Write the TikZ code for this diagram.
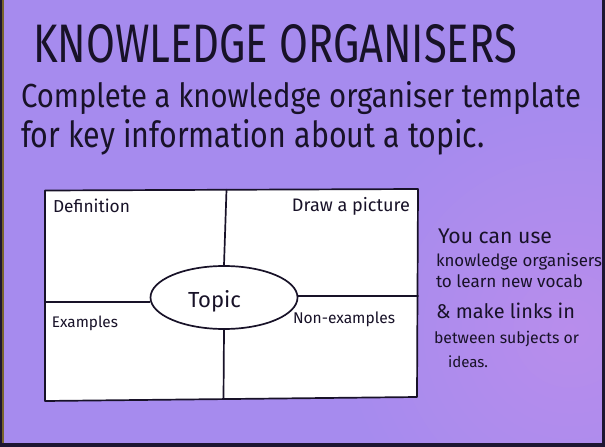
\documentclass[tikz,border=0pt]{standalone}
\usepackage{fontspec}
\setmainfont{Fira Sans}
\usetikzlibrary{shapes.geometric}
\definecolor{bgpurple}{RGB}{166,139,238}
\definecolor{bgpink}{RGB}{184,141,236}
\definecolor{ink}{RGB}{24,18,40}
\definecolor{frameedge}{RGB}{30,22,50}
\definecolor{oliveedge}{RGB}{120,100,45}
\newcommand\fitw[2]{\resizebox{#1pt}{!}{#2}}
\newcommand\fitwh[3]{\resizebox{#1pt}{#2pt}{#3}}
\begin{document}
\begin{tikzpicture}[x=1pt,y=-1pt,
  handtext/.style={anchor=base west, text=ink, inner sep=0pt, outer sep=0pt},
  handright/.style={anchor=base east, text=ink, inner sep=0pt, outer sep=0pt},
  gridline/.style={draw=ink, line width=1.7pt, line cap=round, line join=round},
  topicshape/.style={ellipse, draw=ink, fill=white, line width=1.7pt,
    minimum width=147pt, minimum height=63pt, inner sep=0pt}]
\useasboundingbox (0,0) rectangle (605,447);
% background and frame edges
\fill[bgpurple] (0,0) rectangle (605,447);
\begin{scope}
  \clip (0,0) rectangle (605,447);
  \shade[inner color=bgpink, outer color=bgpurple] (570,330) circle (230);
\end{scope}
\fill[frameedge] (0,0) rectangle (2,447);
\fill[oliveedge] (2,0) rectangle (3.5,447);
\fill[frameedge] (602,0) rectangle (605,447);
\fill[frameedge] (0,443) rectangle (605,447);

% heading texts
\node[handtext] (title) at (33,63) {\fitwh{484}{38}{KNOWLEDGE ORGANISERS}};
\node[handtext] (sub1) at (21,107) {\fitwh{560}{26}{Complete a knowledge organiser template}};
\node[handtext] (sub2) at (21,147) {\fitwh{464}{28}{for key information about a topic.}};

% organiser box
\coordinate (tl) at (45,190.5);
\coordinate (tr) at (418,189);
\coordinate (br) at (417,397);
\coordinate (bl) at (45,401);
\filldraw[gridline, fill=white] (tl) -- (tr) -- (br) -- (bl) -- cycle;

\node[topicshape] (topic) at (224,297.5) {};
\coordinate (ttop) at (226.5,189.8);
\coordinate (tbot) at (223.5,399);
\coordinate (lft) at (45,302);
\coordinate (rgt) at (418,296);
\draw[gridline] (ttop) -- (topic.north);
\draw[gridline] (topic.south) -- (tbot);
\draw[gridline] (lft) -- (topic.west |- lft);
\draw[gridline] (topic.east |- rgt) -- (rgt);

\node[handtext] (topiclabel) at (188,307) {\fitwh{53}{17}{Topic}};
\node[handtext] (definition) at (53,212) {\fitw{77}{Definition}};
\node[handright] (picture) at (410,211) {\fitw{118}{Draw a picture}};
\node[handtext] (examples) at (52,327) {\fitw{66}{Examples}};
\node[handtext] (nonexamples) at (293,323) {\fitw{102}{Non-examples}};

% side note
\node[handtext] (note1) at (438,243) {\fitw{114}{You can use}};
\node[handtext] (note2) at (436,266) {\fitw{166}{knowledge organisers}};
\node[handtext] (note3) at (436,287) {\fitw{147}{to learn new vocab}};
\node[handtext] (note4) at (436,318) {\fitw{139}{\& make links in}};
\node[handtext] (note5) at (434,343) {\fitw{145}{between subjects or}};
\node[handtext] (note6) at (448,367) {\fitw{40}{ideas.}};
\end{tikzpicture}
\end{document}
